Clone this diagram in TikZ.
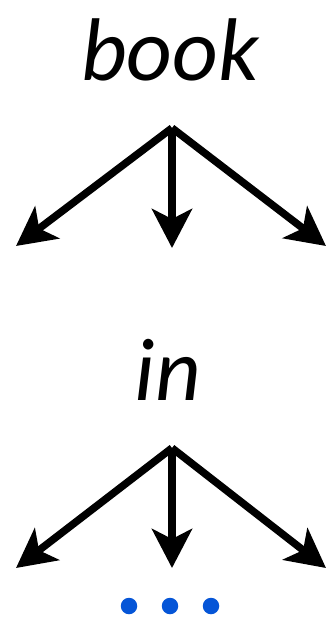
\documentclass[tikz,border=0pt]{standalone}
\usepackage{fontspec}
\setmainfont{Carlito}
\usetikzlibrary{arrows.meta}
\begin{document}
\begin{tikzpicture}[x=1pt,y=-1pt,
  word/.style={font=\fontsize{89}{89}\selectfont\itshape, inner sep=0pt, anchor=base},
  arr/.style={line width=7.5pt, -{Stealth[length=39pt,width=40pt,inset=10pt]}},
  dot/.style={circle, fill=dotblue, inner sep=0pt, minimum size=16.5pt}]
\definecolor{dotblue}{RGB}{5,85,215}
\useasboundingbox (0,0) rectangle (326,619);
\node[word] (book) at (170,80) {book};
\coordinate (v1) at (172,128);
\coordinate (l1) at (16,246);
\coordinate (m1) at (172,248);
\coordinate (r1) at (326,246);
\draw[arr] (v1) -- (l1);
\draw[arr] (v1) -- (m1);
\draw[arr] (v1) -- (r1);
\node[word] (in) at (168,400) {in};
\coordinate (v2) at (172,448);
\coordinate (l2) at (16,568);
\coordinate (m2) at (172,568);
\coordinate (r2) at (326,568);
\draw[arr] (v2) -- (l2);
\draw[arr] (v2) -- (m2);
\draw[arr] (v2) -- (r2);
\node[dot] (d1) at (129,606) {};
\node[dot] (d2) at (170,606) {};
\node[dot] (d3) at (211,606) {};
\end{tikzpicture}
\end{document}
